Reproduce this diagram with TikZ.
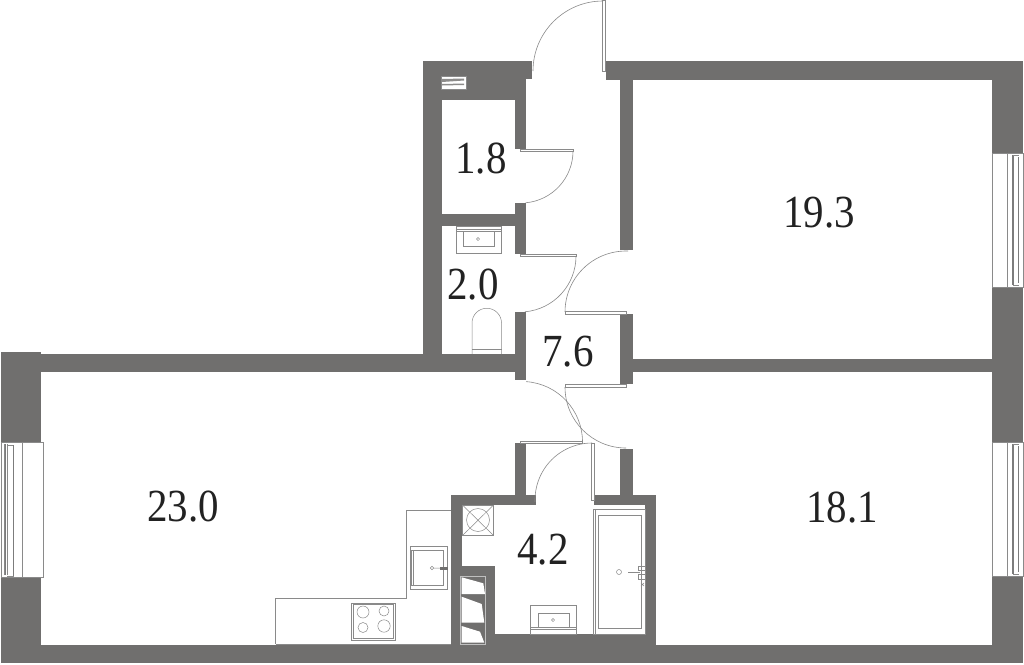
\documentclass[tikz,border=0pt]{standalone}
\usepackage{fontspec}
\setmainfont[FakeStretch=0.89]{Liberation Serif}
\definecolor{wallc}{HTML}{706F6E}
\definecolor{linec}{HTML}{8A8A8A}
\definecolor{textc}{HTML}{222222}
\tikzset{
  wall/.style={fill=wallc,draw=none},
  fine/.style={draw=linec,line width=0.7pt},
  thinl/.style={draw=linec,line width=0.5pt},
  leaf/.style={draw=linec,line width=0.6pt,fill=white},
  swing/.style={draw=linec,line width=0.6pt},
  area/.style={text=textc,font=\fontsize{46}{46}\selectfont,inner sep=0pt},
  pane/.style={draw=linec,line width=0.6pt,fill=white},
  heavy/.style={draw=linec!90!black,line width=1.2pt}
}
\begin{document}
\begin{tikzpicture}[x=1pt,y=-1pt]
\useasboundingbox (0,0) rectangle (1024,664);
\fill[white] (0,0) rectangle (1024,664);
% walls
\foreach \a/\b/\c/\d in {
 423/61/532/79, 423/61/442/372, 442/79/526/100, 515/79/526/149, 515/203/526/254,
 442/214/526/226, 515/312/526/380, 1/354/526/372, 1/352/41/442, 1/577/41/663,
 1/645/1023/663, 606/61/1023/79.5, 620/79/633/250, 992/61/1023/153, 992/287/1023/442,
 992/576/1023/663, 620/314/633/384, 633/359/992/372, 620/449/633/495, 515/443/526/495,
 451/495/536/505, 594/495/656/505, 451/495/462/645, 645/495/656/645, 462/566/495/645,
 462/634/656/645}
 {\fill[wall] (\a,\b) rectangle (\c,\d);}
% windows
\draw[pane] (1,442) rectangle (43,577);
\draw[thinl] (22,442) -- (22,577);
\draw[thinl] (4,444) -- (4,575);
\draw[heavy] (5.5,444) -- (5.5,575);
\draw[thinl] (7,444) -- (7,575) (7,445) -- (13.5,445) (7,576) -- (13.5,576);
\draw[heavy] (13.5,445) -- (13.5,576);
\foreach \t/\u in {153/287,442/576}{
 \draw[pane] (992,\t) rectangle (1023,\u);
 \draw[thinl] (1007.5,\t) -- (1007.5,\u);
 \draw[heavy] (1013,\t+2) -- (1013,\u-2);
 \draw[heavy] (1018.5,\t+4) -- (1018.5,\u-4);
 \draw[thinl] (1013,\t+2) -- (1019,\t+2) (1013,\u-2) -- (1019,\u-2);
}
% door leaves
\draw[leaf] (602,0.5) rectangle (605,71);
\draw[leaf] (520,149) rectangle (573,151.5);
\draw[leaf] (520,254) rectangle (576,256.5);
\draw[leaf] (565,311.5) rectangle (626.5,314);
\draw[leaf] (565,384) rectangle (626.5,387);
\draw[leaf] (520,440.8) rectangle (582.5,443.2);
\draw[leaf] (591.7,443) rectangle (594.3,500);
% door swings (y axis points down, so angles run clockwise on the page)
\draw[swing] (533,71) arc[start angle=180,end angle=270,radius=70];
\draw[swing] (573,151) arc[start angle=0,end angle=85,radius=52];
\draw[swing] (576,256) arc[start angle=0,end angle=85,radius=56];
\draw[swing] (565,312) arc[start angle=180,end angle=272,radius=61];
\draw[swing] (565,387) arc[start angle=180,end angle=90,radius=61];
\draw[swing] (582.5,442) arc[start angle=0,end angle=-86,radius=60.5];
\draw[swing] (592,443) arc[start angle=270,end angle=178,radius=57];
% vent in the wall
\fill[white] (441.5,76) rectangle (466,89);
\draw[thinl] (441.5,76) rectangle (466,89);
\fill[wallc!80] (442,79) -- (464,78.5) -- (464,80.5) -- (442,82) -- cycle;
\fill[wallc!80] (442,84) -- (464,83.5) -- (464,85) -- (442,85.5) -- cycle;
% shaft in the bath block
\draw[thinl] (462.5,505) rectangle (493.5,535.5);
\draw[thinl] (478,520) circle[radius=11.5];
\draw[thinl] (462.5,505) -- (493.5,535.5) (493.5,505) -- (462.5,535.5);
% shelves
\draw[draw=white!75!black,line width=0.8pt] (460,576) rectangle (485,644);
\fill[white] (461.7,577.3) -- (483.3,583.3) -- (485,594) -- (461.7,594) -- cycle;
\fill[white] (461.7,596.7) -- (481.7,604) -- (484.3,622.7) -- (461.7,622.7) -- cycle;
\fill[white] (461.7,626) -- (480,631.7) -- (484.3,642.7) -- (461.7,642.7) -- cycle;
% kitchen
\draw[fine] (275.5,644) -- (275.5,598.5) -- (406.5,598.5) -- (406.5,510) -- (451,510);
\draw[fine,line width=0.4pt] (275.5,644) -- (451,644);
\draw[thinl] (410.5,546.5) rectangle (447.5,589);
\draw[thinl] (411.5,550) rectangle (443,585);
\draw[thinl] (413,550) -- (413,585);
\fill[wallc] (440,567) rectangle (447.5,570);
\draw[thinl] (432,568) circle[radius=1.7] (433.5,568) -- (440,568);
\draw[fine,line width=0.9pt] (351.5,603) rectangle (395,640);
\draw[thinl] (353,604.5) rectangle (393.5,638.5);
\draw[thinl] (363,612) circle[radius=6] (384,611) circle[radius=5]
  (363,627.5) circle[radius=5] (384,626) circle[radius=6.2];
% washbasin, wc
\draw[thinl] (456,226) rectangle (501.5,253);
\draw[thinl] (456,229) -- (501.5,229) (456,231) -- (501.5,231);
\draw[thinl] (463,231) rectangle (494,246);
\draw[thinl] (478,239) circle[radius=1.6];
\draw[thinl] (472,354) -- (472,323) arc[start angle=180,end angle=360,radius=14.75] -- (501.5,354);
\draw[thinl] (472,349) -- (501.5,349);
% bath
\draw[thinl] (593,509) rectangle (645.5,634);
\draw[thinl] (595,509) -- (595,634) (593,509) -- (645.5,509);
\draw[thinl] (598,515.5) rectangle (641,628.5);
\draw[thinl] (619,572) circle[radius=2.5];
\draw[draw=linec,line width=1pt] (628,572) -- (640,572);
\draw[thinl,line width=0.8pt] (638.5,566) rectangle (645,570) (638.5,574) rectangle (645,579);
\draw[thinl] (641,583) -- (644,586) (644,583) -- (641,586);
% bath washbasin
\draw[thinl] (530.5,605.5) rectangle (576.5,634);
\draw[thinl] (530.5,627) -- (576.5,627) (530.5,629) -- (576.5,629);
\draw[thinl] (538,613) rectangle (569,627);
\draw[thinl] (553,620) circle[radius=1.6];
% area labels
\node[area] (a1) at (481,158.5) {1.8};
\node[area] (a2) at (819,212.5) {19.3};
\node[area] (a3) at (473,284.5) {2.0};
\node[area] (a4) at (568,351.5) {7.6};
\node[area] (a5) at (183,507) {23.0};
\node[area] (a6) at (842,507.5) {18.1};
\node[area] (a7) at (543,549.5) {4.2};
\end{tikzpicture}
\end{document}
